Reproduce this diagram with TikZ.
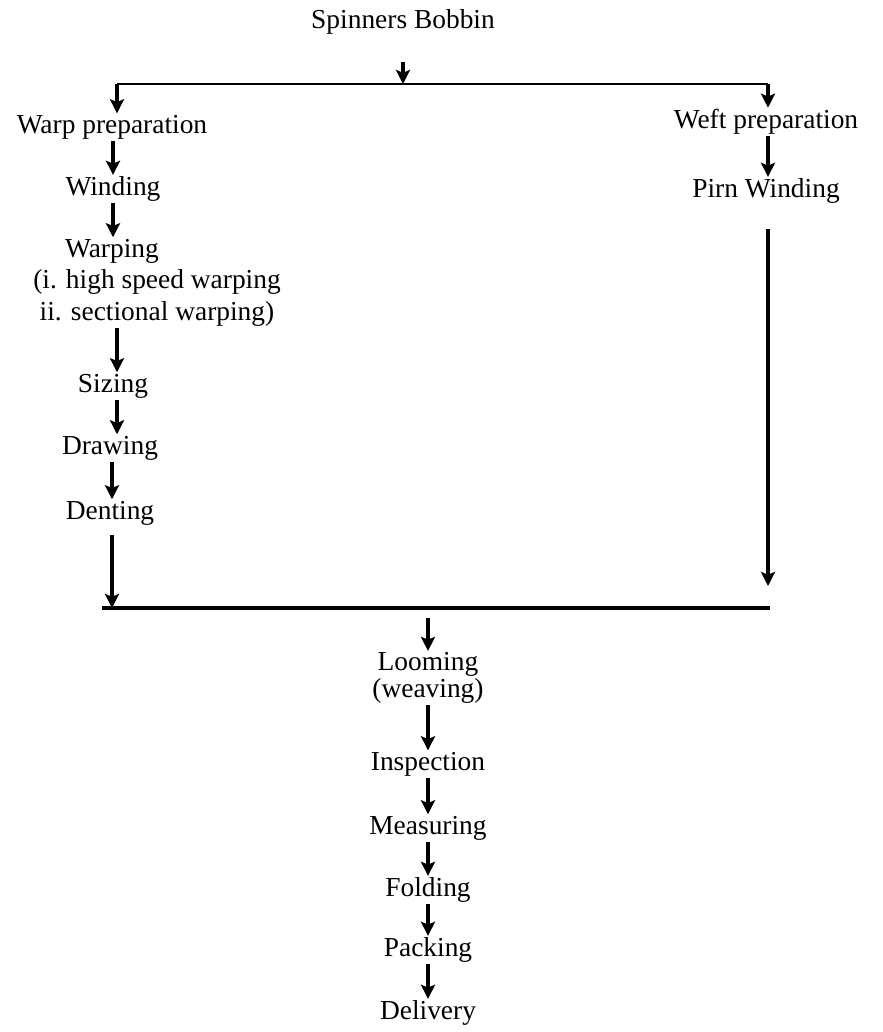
\documentclass[tikz,border=0pt]{standalone}
\usepackage{fontspec}
\setmainfont{Liberation Serif}
\usetikzlibrary{arrows.meta,calc,positioning}

\begin{document}
\begin{tikzpicture}[x=0.025cm, y=-0.025cm,
    stage/.style={rectangle, inner sep=1pt, font=\fontsize{19.5}{23}\selectfont, align=center},
    arr/.style={-{Stealth[length=10pt,width=10pt,inset=2pt]}, line width=2.3pt},
    thin/.style={line width=1.4pt},
    thick/.style={line width=2.6pt}]
    \useasboundingbox (0,0) rectangle (882,1032);
    \node(spin) [stage] at (403,22) {Spinners Bobbin};
    \coordinate (split) at (403,84);
    \coordinate (lsplit) at (117,84);
    \coordinate (rsplit) at (768,84);
    \draw[thin] (lsplit) -- (rsplit);
    \draw[arr] ($(split)+(0,-22)$) -- (split);
    % warp side
    \node(warp) [stage] at (112,127) {Warp preparation};
    \node(wind) [stage] at (113,189) {Winding};
    \node(warping) [stage] at (112,251) {Warping};
    \node(warpsub) [stage] at (157,298) {(i. high speed warping\\ ii. sectional warping)};
    \node(size) [stage] at (113,386) {Sizing};
    \node(drawg) [stage] at (110,448) {Drawing};
    \node(dent) [stage] at (110,513) {Denting};
    \draw[arr] (lsplit) -- (lsplit |- warp.north);
    \draw[arr] (113,0 |- warp.south) -- (113,0 |- wind.north);
    \draw[arr] (113,0 |- wind.south) -- (113,0 |- warping.north);
    \draw[arr] (117,0 |- warpsub.south) -- (117,0 |- size.north);
    \draw[arr] (117,0 |- size.south) -- (117,0 |- drawg.north);
    \draw[arr] (112,0 |- drawg.south) -- (112,0 |- dent.north);
    % weft side
    \node(weft) [stage] at (766,122) {Weft preparation};
    \node(pirn) [stage] at (766,191) {Pirn Winding};
    \draw[arr] (rsplit) -- (rsplit |- weft.north);
    \draw[arr] (768,0 |- weft.south) -- (768,0 |- pirn.north);
    % joining
    \coordinate (ljoin) at (112,608);
    \coordinate (rjoin) at (768,608);
    \coordinate (join) at (428,608);
    \draw[thick] (102,608) -- (770,608);
    \draw[arr] (112,0 |- dent.south) ++(0,8) -- (ljoin);
    \draw[arr] (768,0 |- pirn.south) ++(0,24) -- ($(rjoin)+(0,-22)$);
    % finishing
    \node(loom) [stage, font=\fontsize{19.5}{19}\selectfont] at (428,678) {Looming\\(weaving)};
    \node(insp) [stage] at (428,764) {Inspection};
    \node(meas) [stage] at (428,828) {Measuring};
    \node(fold) [stage] at (428,890) {Folding};
    \node(pack) [stage] at (428,950) {Packing};
    \node(deliv) [stage] at (428,1013) {Delivery};
    \draw[arr] ($(join)+(0,10)$) -- (loom.north);
    \draw[arr] (loom) -- (insp);
    \draw[arr] (insp) -- (meas);
    \draw[arr] (meas) -- (fold);
    \draw[arr] (fold) -- (pack);
    \draw[arr] (pack) -- (deliv);
  \end{tikzpicture}
\end{document}
